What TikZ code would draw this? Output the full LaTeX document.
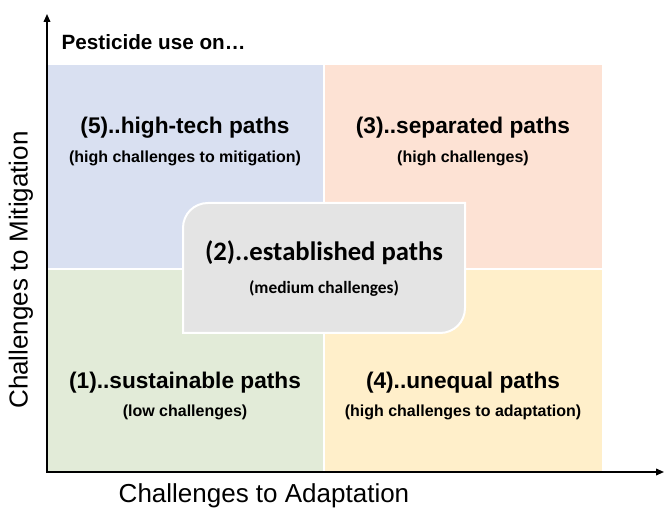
\documentclass[tikz,border=0pt]{standalone}
\usepackage{fontspec}
\setmainfont{Liberation Sans}
\newfontfamily\boxfont{Carlito}
\usetikzlibrary{arrows.meta}

\definecolor{mitigblue}{HTML}{D9E0F1}
\definecolor{sepaorange}{HTML}{FDE2D4}
\definecolor{sustgreen}{HTML}{E2EBD8}
\definecolor{uneqyellow}{HTML}{FFEFCA}
\definecolor{estgrey}{HTML}{E4E4E4}

\tikzset{
  quadrant/.style={draw=white, line width=1.5pt},
  pathtitle/.style={font=\bfseries\fontsize{17}{20}\selectfont},
  pathnote/.style={font=\bfseries\fontsize{12}{14}\selectfont},
  boxtitle/.style={font=\boxfont\bfseries\fontsize{20}{24}\selectfont},
  boxnote/.style={font=\boxfont\bfseries\fontsize{13}{16}\selectfont},
  axislabel/.style={font=\fontsize{19.5}{23}\selectfont},
  axis/.style={line width=1.2pt, {Triangle[length=6pt,width=5pt]}-{Triangle[length=6pt,width=5pt]}}
}

\begin{document}
\begin{tikzpicture}[x=0.75pt, y=-0.75pt]
  \useasboundingbox (0,0) rectangle (664,509);

  % the four fields
  \filldraw[quadrant, fill=mitigblue] (47,64) rectangle (324,269);
  \filldraw[quadrant, fill=sepaorange] (324,64) rectangle (603,269);
  \filldraw[quadrant, fill=sustgreen] (47,269) rectangle (324,472);
  \filldraw[quadrant, fill=uneqyellow] (324,269) rectangle (603,472);

  % middle field
  \filldraw[quadrant, fill=estgrey] (183,333) -- (183,228)
    .. controls (183,214) and (194,203) .. (208,203) -- (465,203) -- (465,308)
    .. controls (465,322) and (454,333) .. (440,333) -- cycle;

  % axes
  \coordinate (origin) at (47,472);
  \coordinate (ytip) at (47,14);
  \coordinate (xtip) at (664,472);
  \draw[axis] (ytip) -- (origin) -- (xtip);

  \node[anchor=west, font=\bfseries\fontsize{15.5}{18}\selectfont] (pesticide) at (57,42) {Pesticide use on…};

  \node[pathtitle] (hightech) at (185,128) {(5)..high-tech paths};
  \node[pathnote] (hightechnote) at (185,158) {(high challenges to mitigation)};

  \node[pathtitle] (separated) at (463,128) {(3)..separated paths};
  \node[pathnote] (separatednote) at (463,158) {(high challenges)};

  \node[boxtitle] (established) at (324,253) {(2)..established paths};
  \node[boxnote] (establishednote) at (324,289) {(medium challenges)};

  \node[pathtitle] (sustainable) at (185,383) {(1)..sustainable paths};
  \node[pathnote] (sustainablenote) at (185,412) {(low challenges)};

  \node[pathtitle] (unequal) at (463,383) {(4)..unequal paths};
  \node[pathnote] (unequalnote) at (463,412) {(high challenges to adaptation)};

  \node[axislabel] (adaptation) at (264,496) {Challenges to Adaptation};
  \node[axislabel, rotate=90] (mitigation) at (21,270) {Challenges to Mitigation};
\end{tikzpicture}
\end{document}
